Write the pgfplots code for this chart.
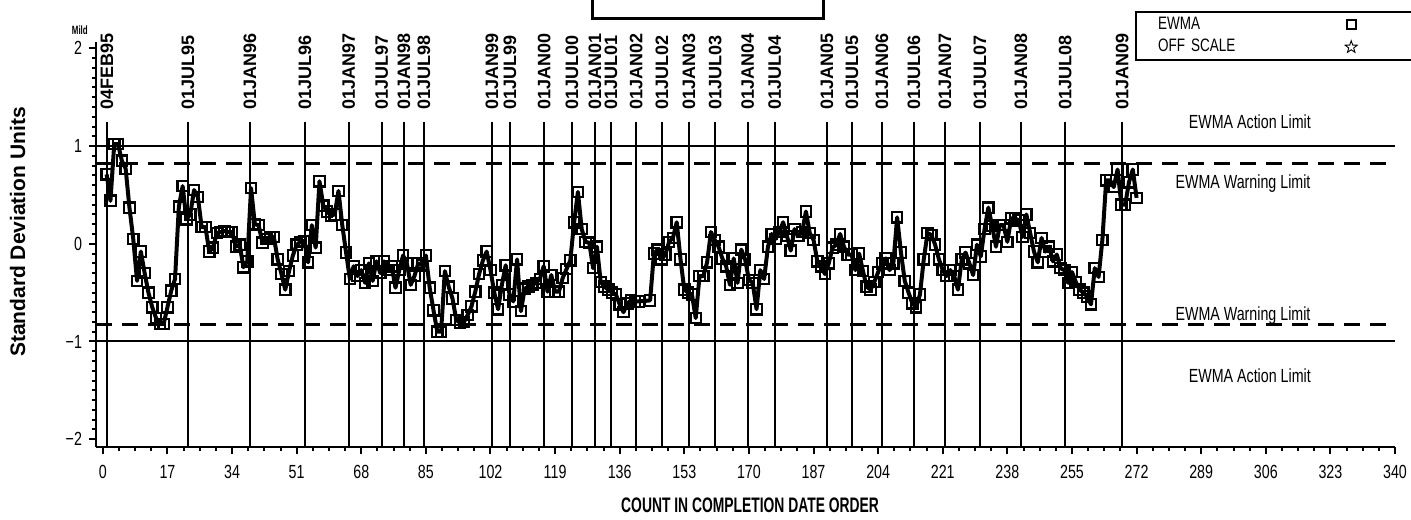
\documentclass[border=0pt]{standalone}
\usepackage{pgfplots}
\pgfplotsset{compat=1.18}
\usepackage{pgfplotstable}
\usepackage{fontspec}
\setmainfont{Liberation Sans}
\newfontfamily\cond[FakeStretch=0.75]{Liberation Sans}
\newfontfamily\heavy[FakeStretch=0.66]{Liberation Sans Bold}

% EWMA values, count in completion date order
\pgfplotstableread{
x y
1 0.71
2 0.44
3 1.02
4 1.02
5 0.85
6 0.77
7 0.37
8 0.05
9 -0.38
10 -0.08
11 -0.30
12 -0.50
13 -0.65
14 -0.76
15 -0.82
16 -0.82
17 -0.65
18 -0.48
19 -0.36
20 0.38
21 0.59
22 0.25
23 0.30
24 0.55
25 0.48
26 0.17
27 0.17
28 -0.08
29 -0.04
30 0.11
31 0.12
32 0.13
33 0.12
34 0.12
35 -0.03
36 -0.01
37 -0.24
38 -0.18
39 0.57
40 0.20
41 0.19
42 0.01
43 0.05
44 0.07
45 0.07
46 -0.16
47 -0.31
48 -0.47
49 -0.28
50 -0.12
51 -0.01
52 0.02
53 0.03
54 -0.19
55 0.19
56 -0.04
57 0.64
58 0.39
59 0.33
60 0.29
61 0.30
62 0.54
63 0.19
64 -0.09
65 -0.36
66 -0.23
67 -0.33
68 -0.27
69 -0.40
70 -0.20
71 -0.38
72 -0.18
73 -0.30
74 -0.18
75 -0.27
76 -0.23
77 -0.45
78 -0.27
79 -0.12
80 -0.20
81 -0.42
82 -0.33
83 -0.20
84 -0.22
85 -0.12
86 -0.45
87 -0.68
88 -0.90
89 -0.90
90 -0.28
91 -0.44
92 -0.56
93 -0.78
94 -0.81
95 -0.80
96 -0.73
97 -0.64
98 -0.49
99 -0.31
100 -0.17
101 -0.08
102 -0.27
103 -0.50
104 -0.67
105 -0.42
106 -0.22
107 -0.52
108 -0.59
109 -0.16
110 -0.69
111 -0.46
112 -0.44
113 -0.42
114 -0.40
115 -0.36
116 -0.23
117 -0.49
118 -0.32
119 -0.49
120 -0.49
121 -0.35
122 -0.26
123 -0.17
124 0.22
125 0.53
126 0.15
127 0.02
128 0.01
129 -0.25
130 -0.03
131 -0.39
132 -0.44
133 -0.47
134 -0.50
135 -0.52
136 -0.62
137 -0.70
138 -0.61
139 -0.58
140 -0.59
141 -0.59
144 -0.58
145 -0.10
146 -0.06
147 -0.16
148 -0.11
149 0.02
150 0.06
151 0.22
152 -0.16
153 -0.47
154 -0.50
155 -0.52
156 -0.76
157 -0.33
158 -0.33
159 -0.19
160 0.12
161 0.04
162 -0.03
163 -0.15
164 -0.23
165 -0.42
166 -0.15
167 -0.40
168 -0.06
169 -0.16
170 -0.37
171 -0.40
172 -0.67
173 -0.27
174 -0.36
175 -0.03
176 0.10
177 0.05
178 0.12
179 0.22
180 0.08
181 -0.07
182 0.15
183 0.08
184 0.12
185 0.33
186 0.11
187 0.04
188 -0.18
189 -0.23
190 -0.31
191 -0.20
192 -0.04
193 -0.01
194 0.10
195 -0.03
196 -0.11
197 -0.11
198 -0.27
199 -0.10
200 -0.28
201 -0.44
202 -0.47
203 -0.39
204 -0.29
205 -0.20
206 -0.15
207 -0.27
208 -0.20
209 0.27
210 -0.09
211 -0.38
212 -0.50
213 -0.61
214 -0.65
215 -0.52
216 -0.16
217 0.11
218 0.09
219 -0.01
220 -0.16
221 -0.27
222 -0.33
223 -0.27
224 -0.33
225 -0.47
226 -0.16
227 -0.09
228 -0.20
229 -0.32
230 -0.01
231 -0.13
232 0.15
233 0.37
234 0.18
235 -0.03
236 0.19
237 0.19
238 0.02
239 0.26
240 0.26
241 0.24
242 0.07
243 0.30
244 0.11
245 -0.08
246 -0.19
247 0.06
248 -0.08
249 -0.03
250 -0.18
251 -0.11
252 -0.25
253 -0.27
254 -0.40
255 -0.29
256 -0.39
257 -0.47
258 -0.50
259 -0.54
260 -0.62
261 -0.25
262 -0.34
263 0.04
264 0.65
265 0.65
266 0.58
267 0.76
268 0.40
269 0.40
270 0.63
271 0.76
272 0.47
}\ewma

% date reference line with its rotated label
\newcommand\dl[2]{%
  \draw[line width=1pt] (axis cs:#1,1.25) -- (axis cs:#1,-2.08);
  \node[rotate=90, anchor=west, inner sep=0pt, font=\bfseries\fontsize{9}{9}\selectfont] at (axis cs:#1,1.37) {#2};}

\begin{document}
\begin{tikzpicture}
\begin{axis}[
  at={(48pt,36pt)}, anchor=south west,
  scale only axis, width=649.5pt, height=202.5pt,
  xmin=-1.8, xmax=340, ymin=-2.08, ymax=2.065,
  axis x line=bottom, axis y line=left,
  axis line style={-, line width=1pt},
  clip=false,
  xtick={0,17,...,340}, minor x tick num=3,
  ytick={-2,-1,0,1,2}, yticklabels={−2,−1,0,1,2}, minor y tick num=9,
  tick align=outside, major tick length=3.5pt, minor tick length=2pt,
  tick style={black, line width=1pt},
  ticklabel style={font=\cond\fontsize{9.5}{10}\selectfont},
  xticklabel style={yshift=-2pt},
  /pgf/number format/assume math mode=true,
  legend plot pos=right,
  legend style={at={(0.800,1.0765)}, anchor=north west, draw=black, line width=1pt,
    font=\cond\fontsize{9}{10}\selectfont, inner xsep=10pt, inner ysep=1.5pt,
    row sep=1.5pt, nodes={text width=92pt, align=left, inner sep=1pt}},
]
% limits
\draw[line width=1pt] (axis cs:-1.8,1) -- (axis cs:340,1);
\draw[line width=1pt] (axis cs:-1.8,-1) -- (axis cs:340,-1);
\draw[line width=1.6pt, dash pattern=on 8pt off 5pt] (axis cs:-1.8,0.825) -- (axis cs:340,0.825);
\draw[line width=1.6pt, dash pattern=on 8pt off 5pt] (axis cs:-1.8,-0.83) -- (axis cs:340,-0.83);

\dl{1.05}{04FEB95}
\dl{22.4}{01JUL95}
\dl{38.7}{01JAN96}
\dl{53.2}{01JUL96}
\dl{64.7}{01JAN97}
\dl{73.4}{01JUL97}
\dl{79.2}{01JAN98}
\dl{84.5}{01JUL98}
\dl{102.4}{01JAN99}
\dl{107.1}{01JUL99}
\dl{116.1}{01JAN00}
\dl{123.4}{01JUL00}
\dl{129.5}{01JAN01}
\dl{133.7}{01JUL01}
\dl{140.3}{01JAN02}
\dl{147.1}{01JUL02}
\dl{154.2}{01JAN03}
\dl{161.1}{01JUL03}
\dl{169.7}{01JAN04}
\dl{176.8}{01JUL04}
\dl{190.5}{01JAN05}
\dl{197.1}{01JUL05}
\dl{205.0}{01JAN06}
\dl{213.4}{01JUL06}
\dl{221.6}{01JAN07}
\dl{230.8}{01JUL07}
\dl{241.6}{01JAN08}
\dl{253.2}{01JUL08}
\dl{268.2}{01JAN09}

\addplot[forget plot, black, line width=2pt, line join=round, mark=square, mark size=2.6pt,
  mark options={solid, line width=1.1pt, line join=miter}] table[x=x, y=y] {\ewma};

\addlegendimage{legend image code/.code={\draw[black, line width=1.1pt] (-2.2pt,-2.2pt) rectangle (2.2pt,2.2pt); \path (-3pt,0pt) (30pt,0pt);}}
\addlegendentry{EWMA}
\addlegendimage{legend image code/.code={\draw[black, line width=0.45pt, line join=miter] (90:3.2pt) -- (126:1.3pt) -- (162:3.2pt) -- (198:1.3pt) -- (234:3.2pt) -- (270:1.3pt) -- (306:3.2pt) -- (342:1.3pt) -- (18:3.2pt) -- (54:1.3pt) -- cycle; \path (-3pt,0pt) (30pt,0pt);}}
\addlegendentry{OFF SCALE}

\begin{scope}[font=\cond\fontsize{9.5}{10}\selectfont]
\node at (axis cs:301.8,1.25) {EWMA Action Limit};
\node at (axis cs:300,0.62) {EWMA Warning Limit};
\node at (axis cs:300,-0.73) {EWMA Warning Limit};
\node at (axis cs:301.8,-1.35) {EWMA Action Limit};
\end{scope}

\node[font=\heavy\fontsize{6}{6}\selectfont] at (axis cs:-6.05,2.19) {Mild};
\node[rotate=90, font=\bfseries\fontsize{10.5}{11}\selectfont] at (axis cs:-22.4,0.12) {Standard Deviation Units};
\node[font=\heavy\fontsize{10.5}{11}\selectfont] at (axis cs:170.3,-2.68) {COUNT IN COMPLETION DATE ORDER};

% title box, its top lies above the page
\draw[line width=1.5pt] (axis cs:128.9,2.9) |- (axis cs:189.5,2.31) -- (axis cs:189.5,2.9);
\end{axis}
\pgfresetboundingbox
\useasboundingbox (0,0) rectangle (705.5pt,259.5pt);
\end{tikzpicture}
\end{document}
